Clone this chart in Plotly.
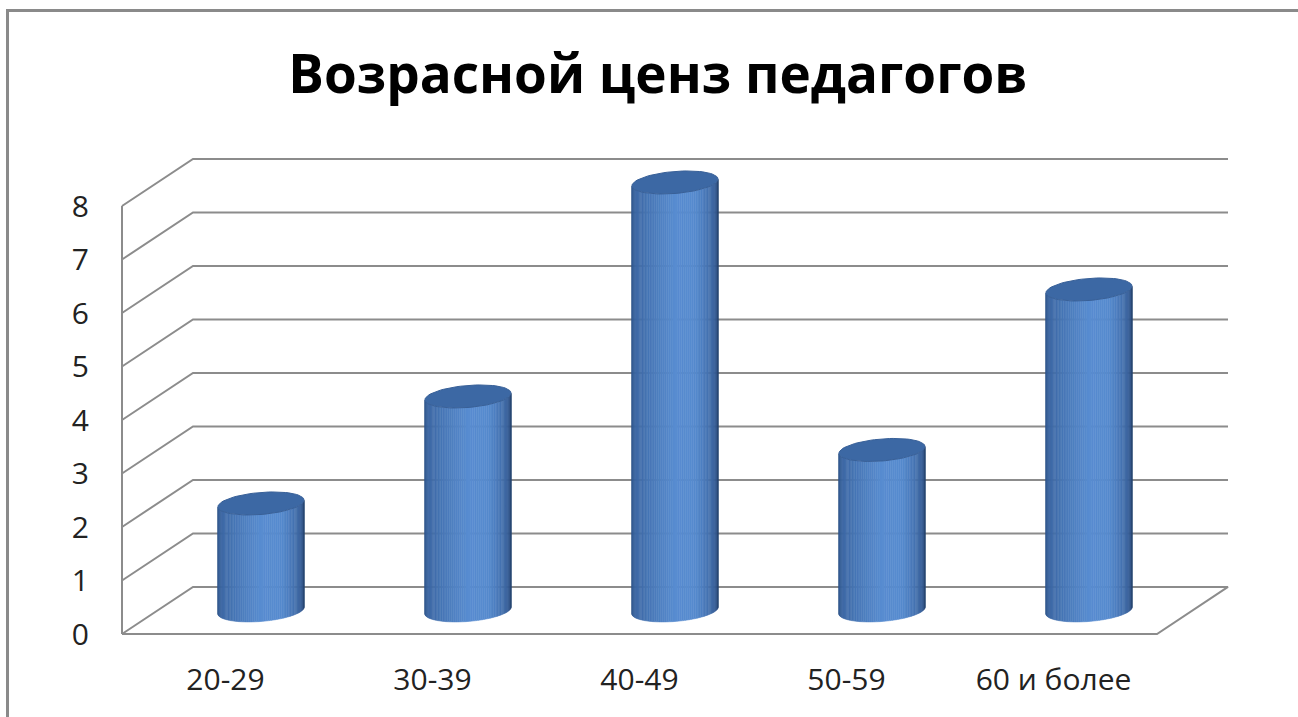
import numpy as np
import plotly.graph_objects as go

# ---------------- data ----------------
categories = ["20-29", "30-39", "40-49", "50-59", "60 и более"]
values = [2, 4, 8, 3, 6]
y_ticks = [0, 1, 2, 3, 4, 5, 6, 7, 8]
y_tick_labels = [str(v) for v in y_ticks]
title_text = "Возрасной ценз педагогов"

# ---------------- geometry / style ----------------
FIG_W, FIG_H = 1298, 717
ML, MR, MT, MB = 116, 64, 150, 77
PLOT_W = FIG_W - ML - MR
PLOT_H = FIG_H - MT - MB

DX, DY = 0.343, 0.88          # depth offset of the back wall (x units, value units)
n = len(categories)
x_front0 = -0.5 - DX / 2       # left edge of the front floor line
x_front1 = x_front0 + n
pad_x = 6 / 207.0
pad_y = 6 / 53.5
x_range = [x_front0 - pad_x, x_front1 + DX + pad_x]
y_range = [-pad_y, -pad_y + PLOT_H / 53.5]

GRID_COLOR = "#8c8c8c"
R_X = 0.208                    # cylinder radius (x units)
R_Y = 0.206                    # ellipse half-height (value units)
SHEAR = 0.30                   # tilt of the ellipses
N_STRIPS = 64

label_x = [x_front0 + 0.5 + i for i in range(n)]
cyl_x = [lx + DX / 2 for lx in label_x]
cyl_base = DY / 2


def body_color(t):
    stops = [(0.0, (46, 82, 134)), (0.12, (58, 100, 160)), (0.5, (88, 140, 208)),
             (0.66, (86, 138, 206)), (0.88, (56, 95, 153)), (1.0, (38, 66, 108))]
    for (t0, c0), (t1, c1) in zip(stops[:-1], stops[1:]):
        if t <= t1:
            f = (t - t0) / (t1 - t0)
            c = [round(a + (b - a) * f) for a, b in zip(c0, c1)]
            return "rgb(%d,%d,%d)" % tuple(c)
    return "rgb(%d,%d,%d)" % stops[-1][1]


fig = go.Figure()

# ---------------- walls and floor ----------------
gx, gy = [], []
for v in y_ticks:
    if v == 0:
        gx += [x_front0, x_front1, x_front1 + DX, x_front0 + DX, x_front0, None]
        gy += [0, 0, DY, DY, 0, None]
    else:
        gx += [x_front0, x_front0 + DX, x_front1 + DX, None]
        gy += [v, v + DY, v + DY, None]
gx += [x_front0, x_front0, None]
gy += [0, max(y_ticks), None]
fig.add_trace(go.Scatter(x=gx, y=gy, mode="lines",
                         line=dict(color=GRID_COLOR, width=2),
                         hoverinfo="skip", showlegend=False))

# ---------------- cylinder bodies (shaded strips) ----------------
angles = np.linspace(np.pi, 2 * np.pi, N_STRIPS + 1)
for k in range(N_STRIPS):
    th = np.linspace(angles[k], angles[k + 1], 4)
    sx, sy = [], []
    for cx, v in zip(cyl_x, values):
        top = cyl_base + v
        xs = cx + R_X * np.cos(th)
        yt = top + R_Y * np.sin(th) + SHEAR * R_X * np.cos(th)
        yb = cyl_base + R_Y * np.sin(th) + SHEAR * R_X * np.cos(th)
        sx += list(xs) + list(xs[::-1]) + [xs[0], None]
        sy += list(yt) + list(yb[::-1]) + [yt[0], None]
    t = (k + 0.5) / N_STRIPS
    col = body_color(t)
    fig.add_trace(go.Scatter(x=sx, y=sy, mode="lines", fill="toself",
                             fillcolor=col, line=dict(color=col, width=0.5),
                             hoverinfo="skip", showlegend=False))

# ---------------- cylinder tops ----------------
th = np.linspace(0, 2 * np.pi, 73)
tx, ty = [], []
for cx, v in zip(cyl_x, values):
    top = cyl_base + v
    tx += list(cx + R_X * np.cos(th)) + [None]
    ty += list(top + R_Y * np.sin(th) + SHEAR * R_X * np.cos(th)) + [None]
fig.add_trace(go.Scatter(x=tx, y=ty, mode="lines", fill="toself",
                         fillcolor="rgb(60,104,164)",
                         line=dict(color="rgb(56,96,152)", width=1),
                         hoverinfo="skip", showlegend=False))


def px_to_paper_x(px):
    return (px - ML) / PLOT_W


def py_to_paper_y(py):
    return (FIG_H - MB - py) / PLOT_H


border = "#8a8a8a"
fig.add_shape(type="line", xref="paper", yref="paper",
              x0=px_to_paper_x(6), x1=px_to_paper_x(1300),
              y0=py_to_paper_y(10.5), y1=py_to_paper_y(10.5),
              line=dict(color=border, width=3))
fig.add_shape(type="line", xref="paper", yref="paper",
              x0=px_to_paper_x(7.5), x1=px_to_paper_x(7.5),
              y0=py_to_paper_y(9), y1=py_to_paper_y(720),
              line=dict(color=border, width=3))

fig.update_layout(
    width=FIG_W, height=FIG_H,
    margin=dict(l=ML, r=MR, t=MT, b=MB, pad=0),
    paper_bgcolor="white", plot_bgcolor="white",
    title=dict(text=title_text, x=658 / FIG_W, xanchor="center",
               y=1 - 74 / FIG_H, yanchor="middle", yref="container",
               font=dict(family="Open Sans", size=53, color="#000000", weight="bold")),
    xaxis=dict(range=x_range, showgrid=False, zeroline=False, showline=False,
               tickmode="array", tickvals=label_x, ticktext=categories, ticks="",
               ticklabelstandoff=19,
               tickfont=dict(family="Open Sans", size=30, color="#222222"),
               fixedrange=True),
    yaxis=dict(range=y_range, showgrid=False, zeroline=False, showline=False,
               tickmode="array", tickvals=y_ticks, ticktext=y_tick_labels, ticks="",
               ticklabelstandoff=26,
               tickfont=dict(family="Open Sans", size=30, color="#222222"),
               fixedrange=True),
    showlegend=False,
)

fig.write_html("out.html", config={"displayModeBar": False},
               post_script="document.body.style.margin='0';document.body.style.overflow='hidden';")
